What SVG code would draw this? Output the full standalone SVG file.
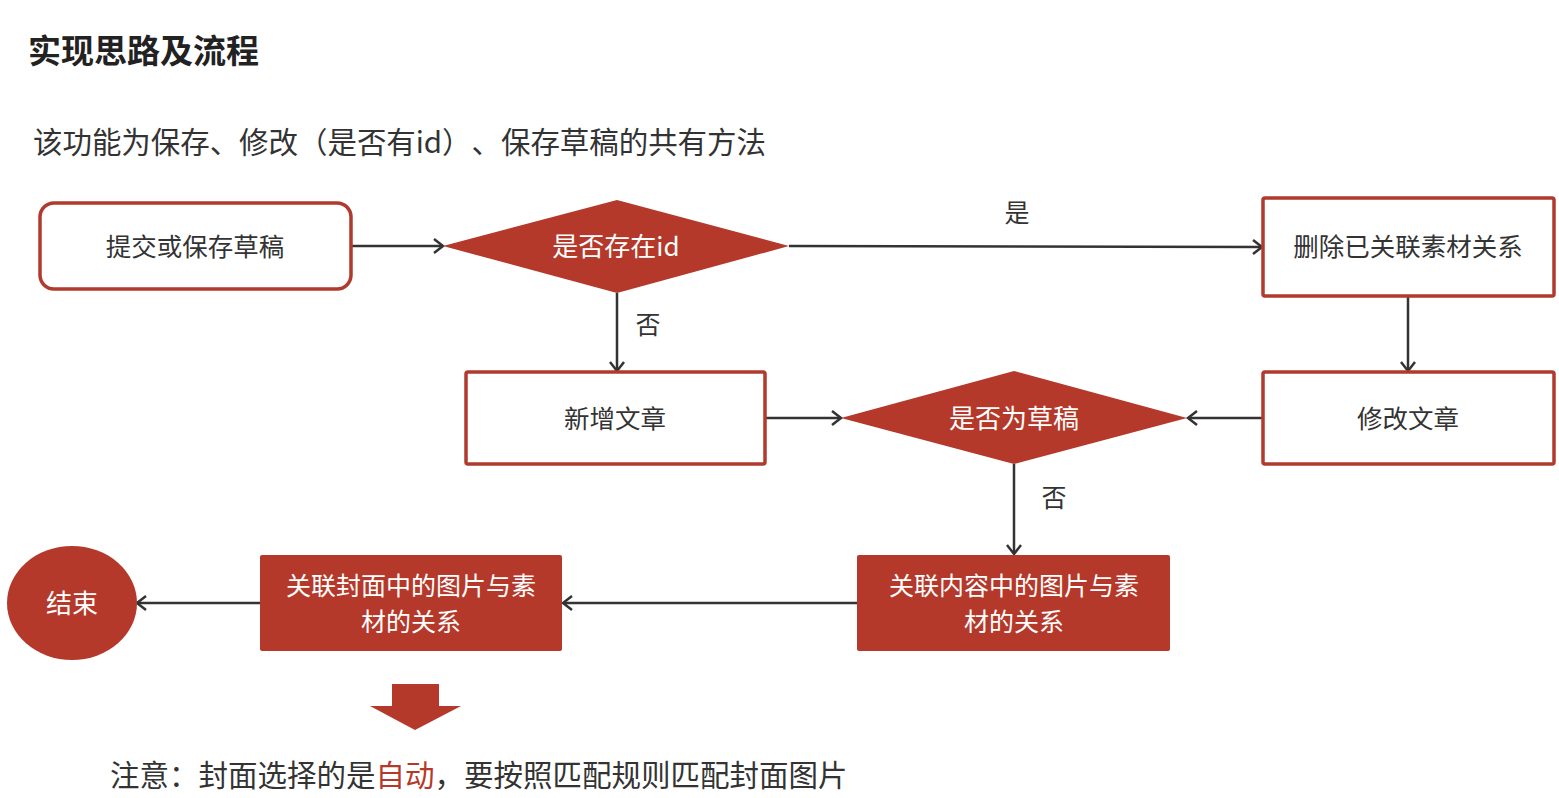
<svg xmlns="http://www.w3.org/2000/svg" width="1559" height="798" viewBox="0 0 1559 798">
<style>
text{font-family:"Noto Sans CJK SC","Noto Sans",sans-serif;text-spacing-trim:space-all;}
.t{font-size:25.5px;fill:#333;text-anchor:middle;dominant-baseline:central;}
.w{font-size:26px;fill:#fff;text-anchor:middle;dominant-baseline:central;}
.w2{font-size:25px;fill:#fff;text-anchor:middle;dominant-baseline:central;}
.lbl{font-size:25px;fill:#333;text-anchor:middle;dominant-baseline:central;}
.box{fill:#fff;stroke:#b03a2e;stroke-width:3.5;}
.red{fill:#b5392a;}
.edge{stroke:#333;stroke-width:2.5;fill:none;marker-end:url(#ah);}
</style>
<defs>
<marker id="ah" markerUnits="userSpaceOnUse" markerWidth="16" markerHeight="18" refX="11" refY="8" orient="auto">
<path d="M2,1 L11,8 L2,15" fill="none" stroke="#333" stroke-width="2.5"/>
</marker>
</defs>
<rect width="1559" height="798" fill="#fff"/>
<text x="28" y="63" style="font-size:33px;font-weight:bold;fill:#222">实现思路及流程</text>
<text x="33" y="153" textLength="733" lengthAdjust="spacing" style="font-size:29.5px;fill:#333">该功能为保存、修改（是否有id）、保存草稿的共有方法</text>

<g id="connectors">
<line class="edge" x1="352" y1="246" x2="443" y2="246"/>
<line class="edge" x1="789" y1="246" x2="1262" y2="247"/>
<line class="edge" x1="1408" y1="296" x2="1408" y2="371"/>
<line class="edge" x1="1262" y1="418" x2="1188" y2="418"/>
<line class="edge" x1="617" y1="293" x2="617" y2="371"/>
<line class="edge" x1="765" y1="418" x2="841" y2="418"/>
<line class="edge" x1="1014" y1="464" x2="1014" y2="554"/>
<line class="edge" x1="857" y1="603" x2="563" y2="603"/>
<line class="edge" x1="260" y1="603" x2="137" y2="603"/>
<text class="lbl" x="1017" y="211">是</text>
<text class="lbl" x="648" y="323">否</text>
<text class="lbl" x="1054" y="496">否</text>
</g>

<g id="start">
<rect class="box" x="40" y="203" width="311" height="86" rx="14"/>
<text class="t" x="195" y="244">提交或保存草稿</text>
</g>
<g id="hasId">
<polygon class="red" points="443,246 617,200 789,246 617,293"/>
<text class="w" x="616" y="244">是否存在id</text>
</g>
<g id="delRel">
<rect class="box" x="1263" y="198" width="291" height="98" rx="2"/>
<text class="t" x="1408" y="244">删除已关联素材关系</text>
</g>
<g id="modify">
<rect class="box" x="1263" y="372" width="291" height="92" rx="2"/>
<text class="t" x="1408" y="416">修改文章</text>
</g>
<g id="isDraft">
<polygon class="red" points="841,418 1014,371 1187,418 1014,464"/>
<text class="w" x="1014" y="416">是否为草稿</text>
</g>
<g id="add">
<rect class="box" x="466" y="372" width="299" height="92" rx="2"/>
<text class="t" x="615" y="416">新增文章</text>
</g>
<g id="contentRel">
<rect class="red" x="857" y="555" width="313" height="96" rx="2"/>
<text class="w2"><tspan x="1014" y="584">关联内容中的图片与素</tspan><tspan x="1014" y="620">材的关系</tspan></text>
</g>
<g id="coverRel">
<rect class="red" x="260" y="555" width="302" height="96" rx="2"/>
<text class="w2"><tspan x="411" y="584">关联封面中的图片与素</tspan><tspan x="411" y="620">材的关系</tspan></text>
</g>
<g id="end">
<ellipse class="red" cx="72" cy="603" rx="65" ry="57"/>
<text class="w" x="72" y="601">结束</text>
</g>
<polygon class="red" points="392,684 439,684 439,706 461,706 415,730 370,706 392,706"/>
<text x="110" y="786" style="font-size:29.5px;fill:#333">注意：封面选择的是<tspan fill="#b5392a">自动</tspan>，要按照匹配规则匹配封面图片</text>
</svg>
